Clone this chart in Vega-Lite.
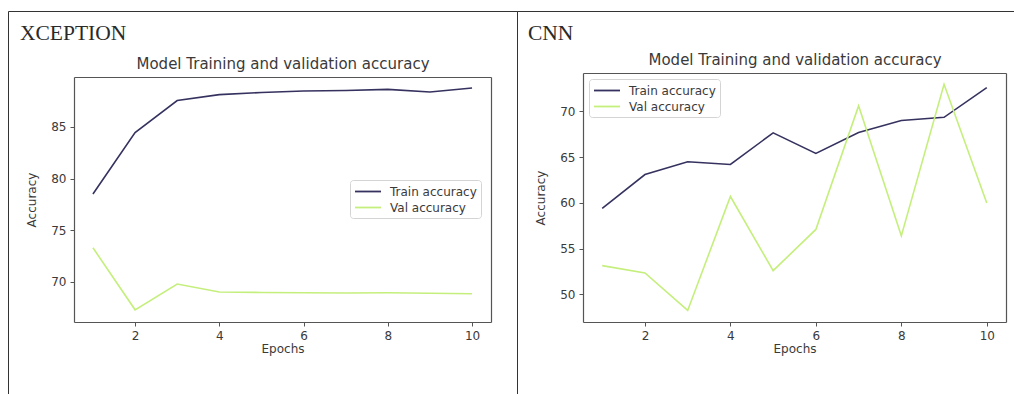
{
  "$schema": "https://vega.github.io/schema/vega-lite/v6.json",
  "padding": {"left": 7, "top": 10, "right": 0, "bottom": 0},
  "autosize": {"type": "pad"},
  "background": "white",
  "spacing": 0,
  "bounds": "flush",
  "resolve": {"scale": {"color": "independent"}, "legend": {"color": "independent"}},
  "datasets": {
    "xception": [
      {"epoch": 1, "series": "Train accuracy", "value": 78.5},
      {"epoch": 2, "series": "Train accuracy", "value": 84.45},
      {"epoch": 3, "series": "Train accuracy", "value": 87.55},
      {"epoch": 4, "series": "Train accuracy", "value": 88.12},
      {"epoch": 5, "series": "Train accuracy", "value": 88.33},
      {"epoch": 6, "series": "Train accuracy", "value": 88.47},
      {"epoch": 7, "series": "Train accuracy", "value": 88.52},
      {"epoch": 8, "series": "Train accuracy", "value": 88.63},
      {"epoch": 9, "series": "Train accuracy", "value": 88.38},
      {"epoch": 10, "series": "Train accuracy", "value": 88.76},
      {"epoch": 1, "series": "Val accuracy", "value": 73.3},
      {"epoch": 2, "series": "Val accuracy", "value": 67.3},
      {"epoch": 3, "series": "Val accuracy", "value": 69.8},
      {"epoch": 4, "series": "Val accuracy", "value": 69.03},
      {"epoch": 5, "series": "Val accuracy", "value": 68.98},
      {"epoch": 6, "series": "Val accuracy", "value": 68.95},
      {"epoch": 7, "series": "Val accuracy", "value": 68.92},
      {"epoch": 8, "series": "Val accuracy", "value": 68.95},
      {"epoch": 9, "series": "Val accuracy", "value": 68.9},
      {"epoch": 10, "series": "Val accuracy", "value": 68.85}
    ],
    "cnn": [
      {"epoch": 1, "series": "Train accuracy", "value": 59.4},
      {"epoch": 2, "series": "Train accuracy", "value": 63.1},
      {"epoch": 3, "series": "Train accuracy", "value": 64.5},
      {"epoch": 4, "series": "Train accuracy", "value": 64.2},
      {"epoch": 5, "series": "Train accuracy", "value": 67.65},
      {"epoch": 6, "series": "Train accuracy", "value": 65.4},
      {"epoch": 7, "series": "Train accuracy", "value": 67.7},
      {"epoch": 8, "series": "Train accuracy", "value": 69.0},
      {"epoch": 9, "series": "Train accuracy", "value": 69.35},
      {"epoch": 10, "series": "Train accuracy", "value": 72.6},
      {"epoch": 1, "series": "Val accuracy", "value": 53.15},
      {"epoch": 2, "series": "Val accuracy", "value": 52.35},
      {"epoch": 3, "series": "Val accuracy", "value": 48.25},
      {"epoch": 4, "series": "Val accuracy", "value": 60.7},
      {"epoch": 5, "series": "Val accuracy", "value": 52.6},
      {"epoch": 6, "series": "Val accuracy", "value": 57.1},
      {"epoch": 7, "series": "Val accuracy", "value": 70.6},
      {"epoch": 8, "series": "Val accuracy", "value": 56.4},
      {"epoch": 9, "series": "Val accuracy", "value": 72.95},
      {"epoch": 10, "series": "Val accuracy", "value": 60.0}
    ]
  },
  "config": {
    "view": {"stroke": "#333333", "strokeWidth": 1},
    "axis": {
      "grid": false,
      "minExtent": 0,
      "labelFont": "DejaVu Sans",
      "labelFontSize": 12,
      "labelColor": "#3a3a3a",
      "titleFont": "DejaVu Sans",
      "titleFontSize": 12,
      "titleFontWeight": "normal",
      "titleColor": "#3a3a3a",
      "domainColor": "#555555",
      "domainWidth": 1.2,
      "tickColor": "#555555",
      "tickSize": 4,
      "labelPadding": 4
    },
    "legend": {
      "labelFont": "DejaVu Sans",
      "labelFontSize": 12,
      "labelColor": "#3a3a3a",
      "strokeColor": "#d4d4d4",
      "fillColor": "#ffffff",
      "cornerRadius": 3,
      "padding": 4,
      "rowPadding": 2,
      "symbolType": "M-1,0H3",
      "symbolSize": 169,
      "symbolStrokeWidth": 1.8,
      "labelOffset": 21
    },
    "title": {
      "font": "Liberation Serif",
      "fontSize": 21.5,
      "fontWeight": "normal",
      "color": "#2a2a2a",
      "anchor": "start",
      "frame": "group",
      "baseline": "alphabetic"
    }
  },
  "hconcat": [
    {
      "width": 509,
      "height": 390,
      "title": {"text": "XCEPTION", "dx": 12, "offset": -33},
      "data": {"name": "xception"},
      "layer": [
        {
          "mark": {"type": "line", "strokeWidth": 1.6},
          "encoding": {
            "x": {"field": "epoch", "type": "quantitative",
              "scale": {"domain": [0.55, 10.45], "range": [66, 483], "nice": false, "zero": false},
              "axis": {"orient": "bottom", "offset": -79, "values": [2, 4, 6, 8, 10], "format": "d", "title": "Epochs", "titlePadding": 2}},
            "y": {"field": "value", "type": "quantitative",
              "scale": {"domain": [66.12, 89.83], "range": [311, 66], "nice": false, "zero": false},
              "axis": {"orient": "left", "offset": -66, "values": [70, 75, 80, 85], "title": "Accuracy", "titlePadding": 12}},
            "color": {"field": "series", "type": "nominal",
              "scale": {"domain": ["Train accuracy", "Val accuracy"], "range": ["#35325f", "#c5ef7c"]},
              "legend": {"orient": "none", "legendX": 342, "legendY": 169, "title": null}}
          }
        },
        {
          "mark": {"type": "line", "opacity": 0},
          "encoding": {
            "x": {"field": "epoch", "type": "quantitative",
              "axis": {"orient": "top", "offset": -66, "labels": false, "ticks": false, "title": "Model Training and validation accuracy", "titleFontSize": 15, "titlePadding": 6}},
            "y": {"field": "value", "type": "quantitative",
              "axis": {"orient": "right", "offset": -26, "labels": false, "ticks": false, "title": null}},
            "detail": {"field": "series"}
          }
        }
      ]
    },
    {
      "width": 514,
      "height": 390,
      "title": {"text": "CNN", "dx": 11, "offset": -33},
      "data": {"name": "cnn"},
      "layer": [
        {
          "mark": {"type": "line", "strokeWidth": 1.6},
          "encoding": {
            "x": {"field": "epoch", "type": "quantitative",
              "scale": {"domain": [0.55, 10.45], "range": [66, 489], "nice": false, "zero": false},
              "axis": {"orient": "bottom", "offset": -79, "values": [2, 4, 6, 8, 10], "format": "d", "title": "Epochs", "titlePadding": 2}},
            "y": {"field": "value", "type": "quantitative",
              "scale": {"domain": [46.99, 74.19], "range": [311, 62], "nice": false, "zero": false},
              "axis": {"orient": "left", "offset": -66, "values": [50, 55, 60, 65, 70], "title": "Accuracy", "titlePadding": 12}},
            "color": {"field": "series", "type": "nominal",
              "scale": {"domain": ["Train accuracy", "Val accuracy"], "range": ["#35325f", "#c5ef7c"]},
              "legend": {"orient": "none", "legendX": 72, "legendY": 68, "title": null}}
          }
        },
        {
          "mark": {"type": "line", "opacity": 0},
          "encoding": {
            "x": {"field": "epoch", "type": "quantitative",
              "axis": {"orient": "top", "offset": -62, "labels": false, "ticks": false, "title": "Model Training and validation accuracy", "titleFontSize": 15, "titlePadding": 6}},
            "y": {"field": "value", "type": "quantitative",
              "axis": {"orient": "right", "offset": -25, "labels": false, "ticks": false, "title": null}},
            "detail": {"field": "series"}
          }
        }
      ]
    }
  ]
}
